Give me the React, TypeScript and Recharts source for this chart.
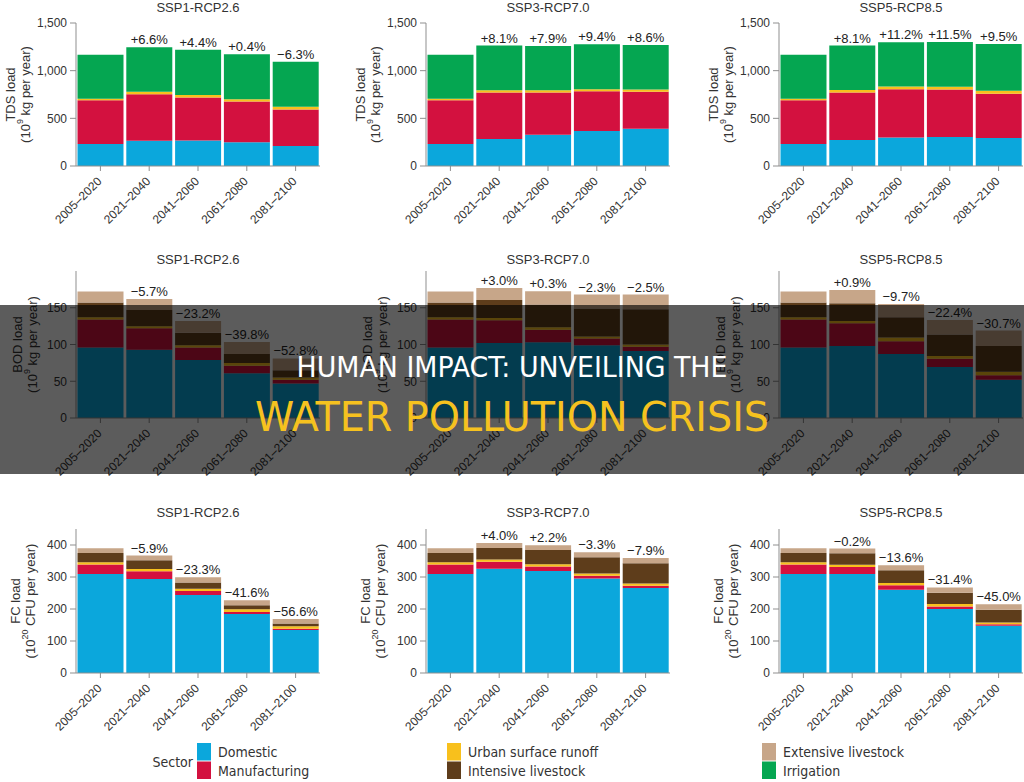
import React from "react";
import { BarChart, Bar, XAxis, YAxis, LabelList } from "recharts";

const periods = ["2005–2020", "2021–2040", "2041–2060", "2061–2080", "2081–2100"];
const scenarios = ["SSP1-RCP2.6", "SSP3-RCP7.0", "SSP5-RCP8.5"];

const sectorNames = [
  "Domestic",
  "Manufacturing",
  "Urban surface runoff",
  "Intensive livestock",
  "Extensive livestock",
  "Irrigation",
];
const sectorColors = ["#0ba7dc", "#d3113f", "#f8c01c", "#5e3d1b", "#c7a689", "#05a651"];

// TDS load (10^9 kg per year), one row per scenario
const tdsDomestic = [
  [230, 265, 268, 248, 209],
  [230, 283, 328, 366, 390],
  [230, 273, 300, 304, 293],
];
const tdsManufacturing = [
  [460, 488, 450, 429, 384],
  [460, 488, 443, 419, 388],
  [460, 498, 505, 498, 465],
];
const tdsUrban = [
  [15, 25, 28, 24, 28],
  [15, 24, 24, 21, 24],
  [15, 25, 28, 30, 32],
];
const tdsIrrigation = [
  [463, 467, 473, 472, 473],
  [463, 468, 465, 472, 467],
  [463, 467, 466, 470, 489],
];
const tdsChange = [
  ["", "+6.6%", "+4.4%", "+0.4%", "−6.3%"],
  ["", "+8.1%", "+7.9%", "+9.4%", "+8.6%"],
  ["", "+8.1%", "+11.2%", "+11.5%", "+9.5%"],
];

// BOD load (10^9 kg per year)
const bodDomestic = [
  [96, 93, 79, 61, 47],
  [96, 102, 103, 99, 91],
  [96, 98, 87, 69.5, 52],
];
const bodManufacturing = [
  [38, 29, 17, 10, 5],
  [38, 31, 17, 9, 6],
  [38, 31, 17.5, 11, 6],
];
const bodUrban = [
  [3, 3, 3, 4, 3],
  [3, 3, 3.5, 3, 3],
  [3, 3, 5, 4, 5],
];
const bodIntensive = [
  [20, 22, 17, 12, 10],
  [20, 24.5, 31, 38, 48],
  [20, 24, 27.5, 29, 35],
];
const bodExtensive = [
  [15, 15, 16, 16.5, 16],
  [15, 16.5, 18, 19, 20],
  [15, 18, 18, 20, 21],
];
const bodChange = [
  ["", "−5.7%", "−23.2%", "−39.8%", "−52.8%"],
  ["", "+3.0%", "+0.3%", "−2.3%", "−2.5%"],
  ["", "+0.9%", "−9.7%", "−22.4%", "−30.7%"],
];

// FC load (10^20 CFU per year)
const fcDomestic = [
  [309, 294, 244, 184, 134],
  [309, 326, 319, 295, 266],
  [309, 309, 260, 200, 148],
];
const fcManufacturing = [
  [30, 24, 12, 7, 4.5],
  [30, 22, 14, 9, 7],
  [30, 22, 14, 8, 4],
];
const fcUrban = [
  [7, 7, 7.5, 8, 7.5],
  [7, 7, 7, 7, 7],
  [7, 7, 7, 7.5, 6],
];
const fcIntensive = [
  [29, 27, 19.5, 13, 9],
  [29, 36, 44, 51, 63],
  [29, 36, 40, 35, 40],
];
const fcExtensive = [
  [15, 15, 16, 15, 14],
  [15, 15, 15, 15, 16],
  [15, 15, 16, 17, 16.5],
];
const fcChange = [
  ["", "−5.9%", "−23.3%", "−41.6%", "−56.6%"],
  ["", "+4.0%", "+2.2%", "−3.3%", "−7.9%"],
  ["", "−0.2%", "−13.6%", "−31.4%", "−45.0%"],
];

const FONT = '"Liberation Sans", Arial, sans-serif';
const NARROW = '"Liberation Sans Narrow", "DejaVu Sans Condensed", "Liberation Sans", sans-serif';
const AXIS = "#8f8f8f";
const TEXT = "#333";

const panelLefts = [0, 350, 703];
const AXIS_W = 76;
const PLOT_W = 244;
const XAXIS_H = 64;

type Layer = { name: string; color: string; values: number[][] };
type Row = {
  top: number;
  height: number;
  plotTop: number;
  domain: [number, number];
  ticks: number[];
  layers: Layer[];
  changes: string[][];
  yTitle: string;
  yUnitSup: string;
  yUnitRest: string;
  labelDx: [number, number];
  titleY: number;
};

const rows: Row[] = [
  {
    top: 0,
    height: 230,
    plotTop: 23,
    domain: [0, 1500],
    ticks: [0, 500, 1000, 1500],
    layers: [
      { name: sectorNames[0], color: sectorColors[0], values: tdsDomestic },
      { name: sectorNames[1], color: sectorColors[1], values: tdsManufacturing },
      { name: sectorNames[2], color: sectorColors[2], values: tdsUrban },
      { name: sectorNames[5], color: sectorColors[5], values: tdsIrrigation },
    ],
    changes: tdsChange,
    yTitle: "TDS load",
    yUnitSup: "9",
    yUnitRest: " kg per year)",
    labelDx: [-66, -51],
    titleY: 12,
  },
  {
    top: 240,
    height: 242,
    plotTop: 31,
    domain: [0, 200],
    ticks: [0, 50, 100, 150],
    layers: [
      { name: sectorNames[0], color: sectorColors[0], values: bodDomestic },
      { name: sectorNames[1], color: sectorColors[1], values: bodManufacturing },
      { name: sectorNames[2], color: sectorColors[2], values: bodUrban },
      { name: sectorNames[3], color: sectorColors[3], values: bodIntensive },
      { name: sectorNames[4], color: sectorColors[4], values: bodExtensive },
    ],
    changes: bodChange,
    yTitle: "BOD load",
    yUnitSup: "9",
    yUnitRest: " kg per year)",
    labelDx: [-59, -44],
    titleY: 264,
  },
  {
    top: 500,
    height: 237,
    plotTop: 29,
    domain: [0, 450],
    ticks: [0, 100, 200, 300, 400],
    layers: [
      { name: sectorNames[0], color: sectorColors[0], values: fcDomestic },
      { name: sectorNames[1], color: sectorColors[1], values: fcManufacturing },
      { name: sectorNames[2], color: sectorColors[2], values: fcUrban },
      { name: sectorNames[3], color: sectorColors[3], values: fcIntensive },
      { name: sectorNames[4], color: sectorColors[4], values: fcExtensive },
    ],
    changes: fcChange,
    yTitle: "FC load",
    yUnitSup: "20",
    yUnitRest: " CFU per year)",
    labelDx: [-61, -46],
    titleY: 517,
  },
];

const fmt = (v: number) => v.toLocaleString("en-US");

const renderXTick = (props: any) => {
  const { x, y, payload } = props;
  const bx = x + 2;
  const by = y + 9;
  return (
    <text
      x={bx}
      y={by}
      transform={`rotate(-45 ${bx} ${by})`}
      textAnchor="end"
      fontSize={12}
      fontFamily={FONT}
      fill={TEXT}
    >
      {payload.value}
    </text>
  );
};

function Panel({ row, s }: { row: Row; s: number }) {
  const data = periods.map((p, i) => {
    const d: any = { period: p, change: row.changes[s][i] };
    row.layers.forEach((l) => (d[l.name] = l.values[s][i]));
    return d;
  });
  const plotBottom = row.height - XAXIS_H;
  const cy = (row.plotTop + plotBottom) / 2;
  const x1 = AXIS_W + row.labelDx[0];
  const x2 = AXIS_W + row.labelDx[1];

  const yLabel = () => (
    <g fontFamily={FONT} fontSize={13} fill={TEXT}>
      <text transform={`translate(${x1},${cy}) rotate(-90)`} textAnchor="middle" dominantBaseline="central">
        {row.yTitle}
      </text>
      <text transform={`translate(${x2},${cy}) rotate(-90)`} textAnchor="middle" dominantBaseline="central">
        (10
        <tspan dy={-5} fontSize={9}>
          {row.yUnitSup}
        </tspan>
        <tspan dy={5}>{row.yUnitRest}</tspan>
      </text>
    </g>
  );

  return (
    <div style={{ position: "absolute", left: panelLefts[s], top: row.top }}>
      <BarChart
        width={AXIS_W + PLOT_W + 20}
        height={row.height}
        data={data}
        margin={{ top: row.plotTop, right: 20, left: 0, bottom: 0 }}
        barCategoryGap={1.5}
      >
        <XAxis
          dataKey="period"
          height={XAXIS_H}
          interval={0}
          tick={renderXTick}
          tickSize={5}
          axisLine={{ stroke: AXIS }}
          tickLine={{ stroke: AXIS }}
        />
        <YAxis
          width={AXIS_W}
          domain={row.domain}
          ticks={row.ticks}
          interval={0}
          allowDataOverflow
          tickFormatter={fmt}
          tickSize={6}
          tickMargin={3}
          axisLine={{ stroke: AXIS }}
          tickLine={{ stroke: AXIS }}
          tick={{ fontSize: 12, fontFamily: FONT, fill: TEXT }}
          label={yLabel}
        />
        {row.layers.map((l, k) => (
          <Bar key={l.name} dataKey={l.name} stackId="a" fill={l.color} isAnimationActive={false}>
            {k === row.layers.length - 1 && (
              <LabelList
                dataKey="change"
                position="top"
                offset={3}
                fill="#222"
                fontSize={13}
                fontFamily={FONT}
              />
            )}
          </Bar>
        ))}
      </BarChart>
    </div>
  );
}

const legendCols = [
  { x: 197, items: [0, 1] },
  { x: 447, items: [2, 3] },
  { x: 762, items: [4, 5] },
];

export default function App() {
  return (
    <div
      style={{
        position: "absolute",
        left: 0,
        top: 0,
        width: 1024,
        height: 782,
        overflow: "hidden",
        background: "#fff",
      }}
    >
      {rows.map((row, r) =>
        scenarios.map((_, s) => <Panel key={`${r}-${s}`} row={row} s={s} />)
      )}
      <svg
        width={1024}
        height={782}
        style={{ position: "absolute", left: 0, top: 0, pointerEvents: "none" }}
      >
        {rows.map((row, r) =>
          scenarios.map((name, s) => (
            <text
              key={`t${r}-${s}`}
              x={panelLefts[s] + AXIS_W + PLOT_W / 2}
              y={row.titleY}
              textAnchor="middle"
              fontSize={13}
              fontFamily={FONT}
              fill={TEXT}
            >
              {name}
            </text>
          ))
        )}

        <text x={193} y={767} textAnchor="end" fontSize={14} fontFamily={NARROW} fill={TEXT}>
          Sector
        </text>
        {legendCols.map((col) =>
          col.items.map((idx, j) => (
            <g key={sectorNames[idx]}>
              <rect x={col.x} y={743 + j * 18.5} width={14} height={17.5} fill={sectorColors[idx]} />
              <text
                x={col.x + 21}
                y={757 + j * 19}
                fontSize={14}
                fontFamily={NARROW}
                fill={TEXT}
              >
                {sectorNames[idx]}
              </text>
            </g>
          ))
        )}

        <rect x={0} y={305} width={1024} height={169} fill="rgba(0,0,0,0.64)" />
        <text
          x={512}
          y={377}
          textAnchor="middle"
          fontSize={28}
          fontFamily={NARROW}
          fill="#ffffff"
          textLength={431}
          lengthAdjust="spacingAndGlyphs"
        >
          HUMAN IMPACT: UNVEILING THE
        </text>
        <text
          x={512}
          y={431}
          textAnchor="middle"
          fontSize={40}
          fontFamily={NARROW}
          fill="#f6c21f"
          textLength={514}
          lengthAdjust="spacingAndGlyphs"
        >
          WATER POLLUTION CRISIS
        </text>
      </svg>
    </div>
  );
}
